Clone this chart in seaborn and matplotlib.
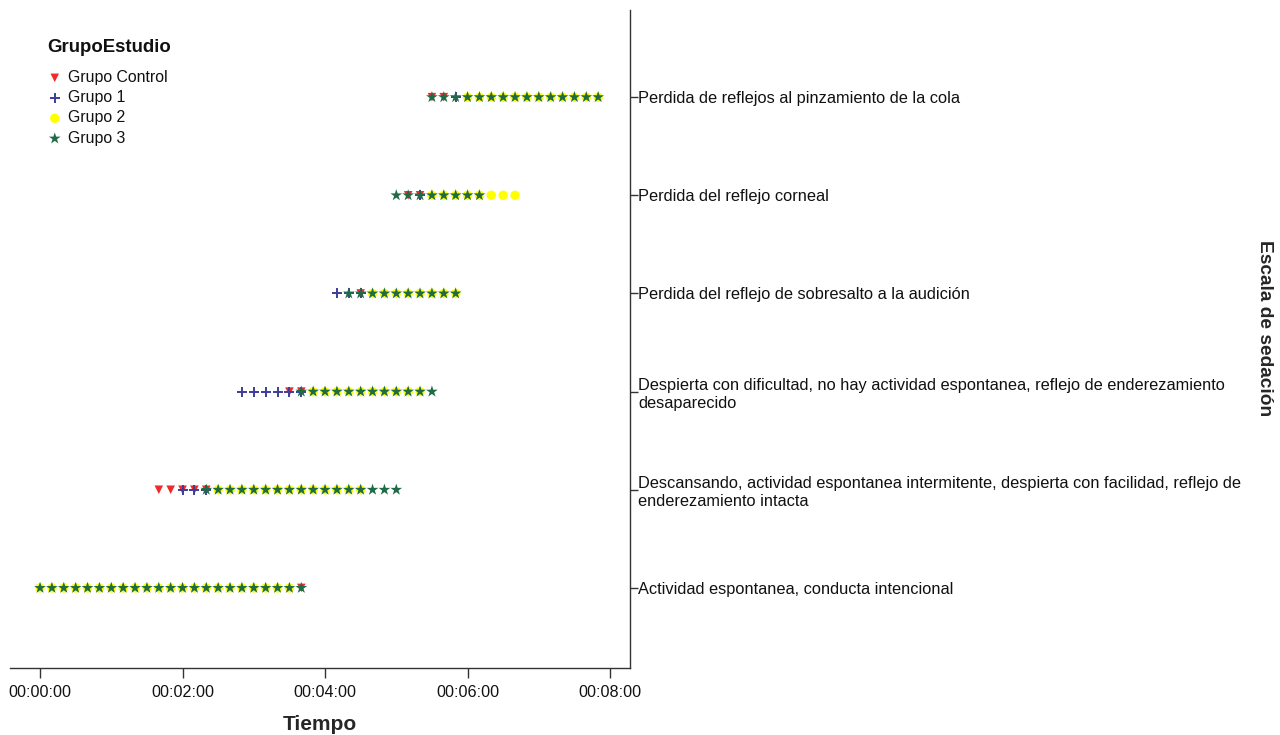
import matplotlib
matplotlib.use("Agg")
import matplotlib.pyplot as plt
from matplotlib.ticker import FuncFormatter, FixedLocator
import seaborn as sns
import pandas as pd

# Sedation scale levels, bottom to top
levels = [
    "Actividad espontanea, conducta intencional",
    "Descansando, actividad espontanea intermitente, despierta con facilidad, reflejo de\nenderezamiento intacta",
    "Despierta con dificultad, no hay actividad espontanea, reflejo de enderezamiento\ndesaparecido",
    "Perdida del reflejo de sobresalto a la audición",
    "Perdida del reflejo corneal",
    "Perdida de reflejos al pinzamiento de la cola",
]

groups = ["Grupo Control", "Grupo 1", "Grupo 2", "Grupo 3"]

# Time (seconds) at which each group was observed at each level (level index -> times)
control_times = {
    0: [220],
    1: [100, 110, 120, 130, 140],
    2: [210, 220],
    3: [270],
    4: [310, 320],
    5: [330, 340],
}
grupo1_times = {
    1: [120, 130, 140],
    2: [170, 180, 190, 200, 210, 220],
    3: [250, 260, 270],
    4: [320],
    5: [350],
}
grupo2_times = {
    0: [0, 10, 20, 30, 40, 50, 60, 70, 80, 90, 100, 110, 120, 130, 140, 150,
        160, 170, 180, 190, 200, 210],
    1: [150, 160, 170, 180, 190, 200, 210, 220, 230, 240, 250, 260, 270],
    2: [230, 240, 250, 260, 270, 280, 290, 300, 310, 320],
    3: [280, 290, 300, 310, 320, 330, 340, 350],
    4: [330, 340, 350, 360, 370, 380, 390, 400],
    5: [360, 370, 380, 390, 400, 410, 420, 430, 440, 450, 460, 470],
}
grupo3_times = {
    0: [0, 10, 20, 30, 40, 50, 60, 70, 80, 90, 100, 110, 120, 130, 140, 150,
        160, 170, 180, 190, 200, 210, 220],
    1: [140, 150, 160, 170, 180, 190, 200, 210, 220, 230, 240, 250, 260, 270,
        280, 290, 300],
    2: [220, 230, 240, 250, 260, 270, 280, 290, 300, 310, 320, 330],
    3: [260, 270, 280, 290, 300, 310, 320, 330, 340, 350],
    4: [300, 310, 320, 330, 340, 350, 360, 370],
    5: [330, 340, 350, 360, 370, 380, 390, 400, 410, 420, 430, 440, 450, 460, 470],
}

x_ticks = [0, 120, 240, 360, 480]

group_times = dict(zip(groups, [control_times, grupo1_times, grupo2_times, grupo3_times]))

rows = []
for g in groups:
    for lvl, times in group_times[g].items():
        for t in times:
            rows.append({"GrupoEstudio": g, "Tiempo": t, "Nivel": lvl})
df = pd.DataFrame(rows)

sns.set_theme(style="white")
plt.rcParams["font.family"] = ["Liberation Sans", "DejaVu Sans"]

colors = {"Grupo Control": "#ee2b2b", "Grupo 1": "#3d3d9a",
          "Grupo 2": "#ffff00", "Grupo 3": "#1f6b45"}
markers = {"Grupo Control": "v", "Grupo 1": "+", "Grupo 2": "o", "Grupo 3": "*"}
sizes = {"Grupo Control": 38, "Grupo 1": 42, "Grupo 2": 46, "Grupo 3": 78}

fig = plt.figure(figsize=(12.8, 7.35), dpi=100)
ax = fig.add_axes([10 / 1280, 67 / 735, 620 / 1280, 658 / 735])

for g in groups:
    sub = df[df["GrupoEstudio"] == g]
    if markers[g] == "+":
        sns.scatterplot(data=sub, x="Tiempo", y="Nivel", marker="+", color=colors[g],
                        s=sizes[g], linewidth=1.4, label=g, ax=ax)
    else:
        sns.scatterplot(data=sub, x="Tiempo", y="Nivel", marker=markers[g], color=colors[g],
                        s=sizes[g], linewidth=0, edgecolor="none", label=g, ax=ax)

ax.set_xlim(-25.3, 496.8)
ax.set_ylim(-0.816, 5.888)


def hms(v, pos):
    v = int(round(v))
    return f"{v // 3600:02d}:{(v % 3600) // 60:02d}:{v % 60:02d}"


ax.xaxis.set_major_locator(FixedLocator(x_ticks))
ax.xaxis.set_major_formatter(FuncFormatter(hms))
ax.set_yticks(range(len(levels)))
ax.set_yticklabels(levels)
ax.yaxis.tick_right()

for side in ["left", "top"]:
    ax.spines[side].set_visible(False)
for side in ["bottom", "right"]:
    ax.spines[side].set_color("#333333")
    ax.spines[side].set_linewidth(1.0)

ax.tick_params(axis="x", bottom=True, direction="out", length=7, width=1,
               color="#333333", labelsize=11.6, pad=5, labelcolor="#111111")
ax.tick_params(axis="y", right=True, left=False, direction="out", length=6, width=1,
               color="#333333", labelsize=11.8, pad=0, labelcolor="#111111")

ax.set_xlabel("Tiempo", fontsize=15, fontweight="bold", labelpad=11)
ax.set_ylabel("")
fig.text(1265 / 1280, 1 - 328 / 735, "Escala de sedación", rotation=270,
         ha="center", va="center", fontsize=13.8, fontweight="bold")

# Legend title drawn separately so the gap below it can be set freely
fig.text(47 / 1280, 1 - 47 / 735, "GrupoEstudio", ha="left", va="center",
         fontsize=13.4, fontweight="bold", color="#111111")
leg = ax.legend(loc="upper left",
                bbox_to_anchor=(50 / 1280, 1 - 70 / 735), bbox_transform=fig.transFigure,
                frameon=False, fontsize=11.4, handlelength=0.6, handletextpad=0.55,
                labelspacing=0.33, borderpad=0, borderaxespad=0)
for t in leg.get_texts():
    t.set_color("#111111")

fig.savefig("out.png", dpi=100, facecolor="white")
